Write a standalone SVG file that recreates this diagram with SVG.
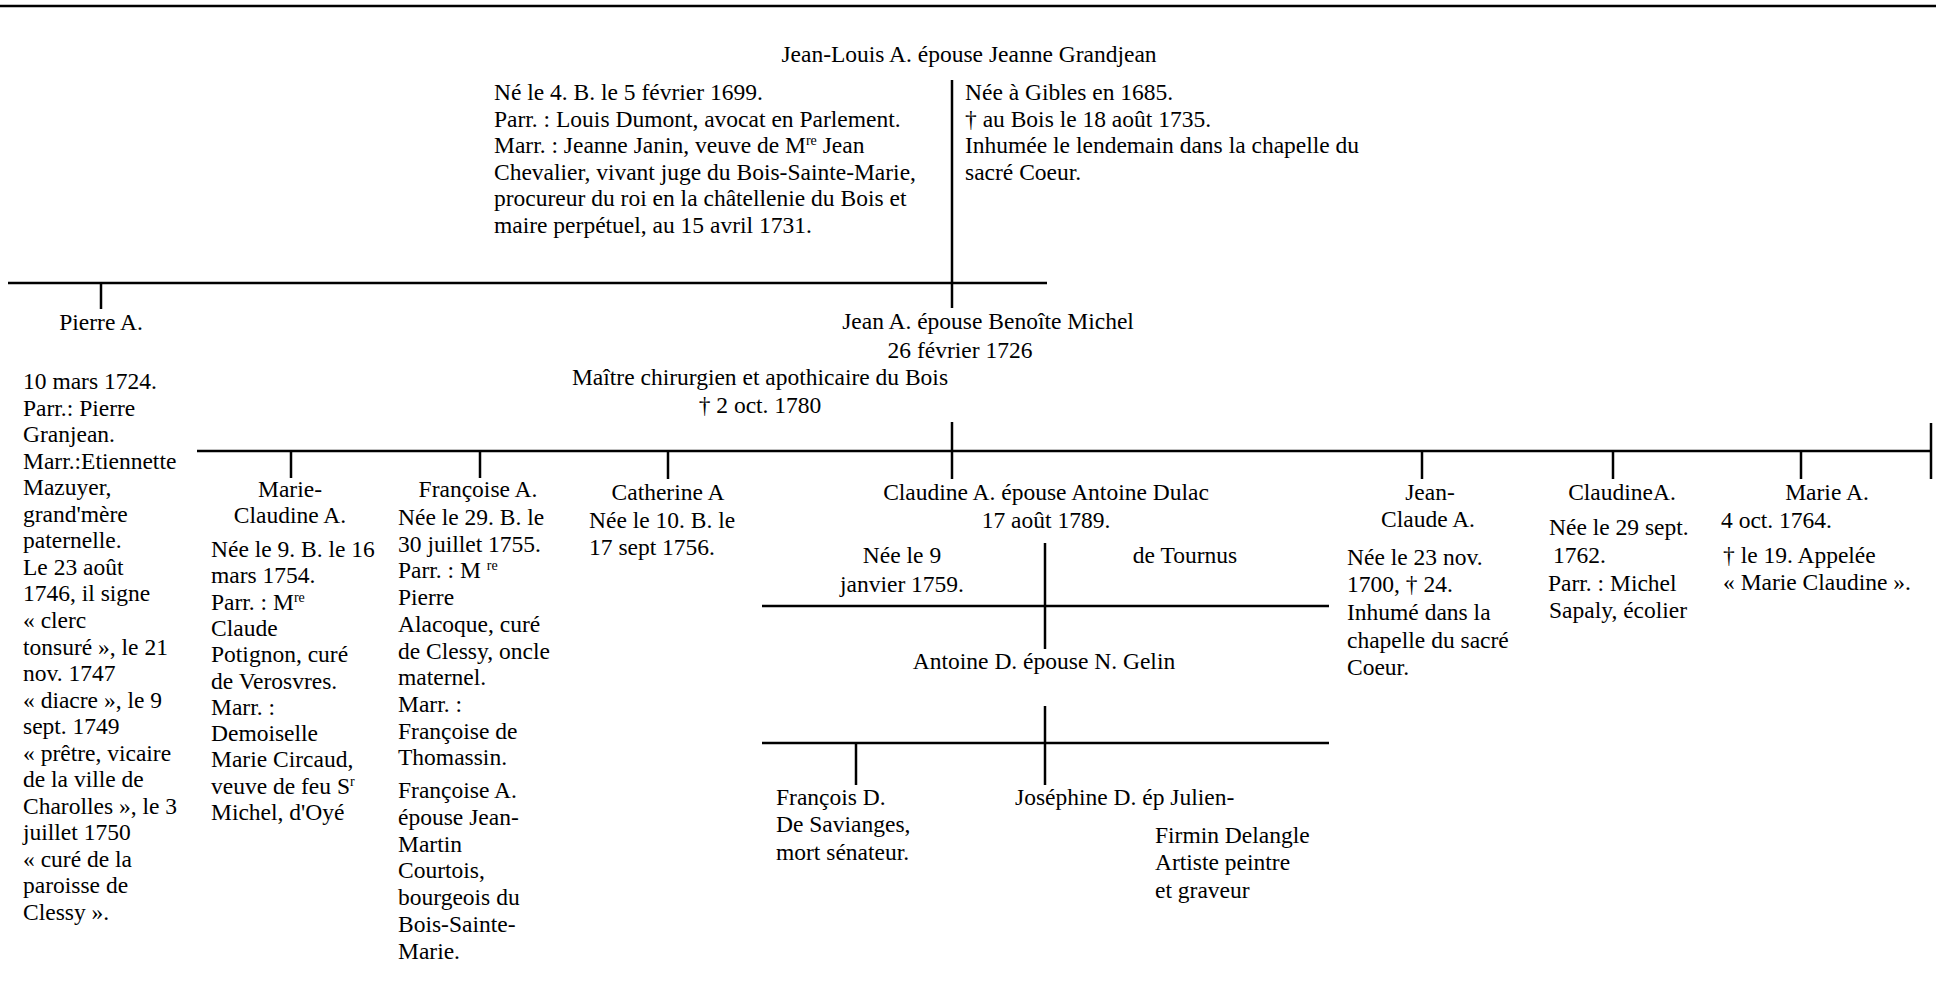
<svg xmlns="http://www.w3.org/2000/svg" width="1936" height="990" viewBox="0 0 1936 990">
<style>
text{font-family:"Liberation Serif","Times New Roman",serif;font-size:23.5px;fill:#000}
.c{text-anchor:middle}
.sup{font-size:14px}
line{stroke:#000;stroke-width:2.5}
</style>
<rect width="1936" height="990" fill="#fff"/>
<g id="connectors">
<line x1="0" y1="6" x2="1936" y2="6" stroke-width="3"/>
<line x1="952" y1="80" x2="952" y2="308"/>
<line x1="8" y1="283" x2="1047" y2="283"/>
<line x1="101" y1="283" x2="101" y2="309"/>
<line x1="952" y1="422" x2="952" y2="479"/>
<line x1="197" y1="451" x2="1931" y2="451"/>
<line x1="1931" y1="423" x2="1931" y2="479"/>
<line x1="291" y1="451" x2="291" y2="478"/>
<line x1="480" y1="451" x2="480" y2="478"/>
<line x1="668" y1="451" x2="668" y2="479"/>
<line x1="1422" y1="451" x2="1422" y2="479"/>
<line x1="1613" y1="451" x2="1613" y2="479"/>
<line x1="1801" y1="451" x2="1801" y2="479"/>
<line x1="1045" y1="543" x2="1045" y2="649"/>
<line x1="762" y1="606" x2="1329" y2="606"/>
<line x1="1045" y1="706" x2="1045" y2="785"/>
<line x1="762" y1="743" x2="1329" y2="743"/>
<line x1="856" y1="743" x2="856" y2="785"/>
</g>
<g id="jean-louis">
<text x="969" y="62" class="c">Jean-Louis A. épouse Jeanne Grandjean</text>
</g>
<g id="jean-louis-notes">
<text x="494" y="100">Né le 4. B. le 5 février 1699.</text>
<text x="494" y="126.5">Parr. : Louis Dumont, avocat en Parlement.</text>
<text x="494" y="153">Marr. : Jeanne Janin, veuve de M<tspan class="sup" dy="-8">re</tspan><tspan dy="8"> Jean</tspan></text>
<text x="494" y="179.5">Chevalier, vivant juge du Bois-Sainte-Marie,</text>
<text x="494" y="206">procureur du roi en la châtellenie du Bois et</text>
<text x="494" y="232.5">maire perpétuel, au 15 avril 1731.</text>
</g>
<g id="jeanne-notes">
<text x="965" y="100">Née à Gibles en 1685.</text>
<text x="965" y="126.5">† au Bois le 18 août 1735.</text>
<text x="965" y="153">Inhumée le lendemain dans la chapelle du</text>
<text x="965" y="179.5">sacré Coeur.</text>
</g>
<g id="pierre">
<text x="101" y="330" class="c">Pierre A.</text>
<text x="23" y="389">
<tspan x="23">10 mars 1724.</tspan>
<tspan x="23" dy="26.55">Parr.: Pierre</tspan>
<tspan x="23" dy="26.55">Granjean.</tspan>
<tspan x="23" dy="26.55">Marr.:Etiennette</tspan>
<tspan x="23" dy="26.55">Mazuyer,</tspan>
<tspan x="23" dy="26.55">grand'mère</tspan>
<tspan x="23" dy="26.55">paternelle.</tspan>
<tspan x="23" dy="26.55">Le 23 août</tspan>
<tspan x="23" dy="26.55">1746, il signe</tspan>
<tspan x="23" dy="26.55">« clerc</tspan>
<tspan x="23" dy="26.55">tonsuré », le 21</tspan>
<tspan x="23" dy="26.55">nov. 1747</tspan>
<tspan x="23" dy="26.55">« diacre », le 9</tspan>
<tspan x="23" dy="26.55">sept. 1749</tspan>
<tspan x="23" dy="26.55">« prêtre, vicaire</tspan>
<tspan x="23" dy="26.55">de la ville de</tspan>
<tspan x="23" dy="26.55">Charolles », le 3</tspan>
<tspan x="23" dy="26.55">juillet 1750</tspan>
<tspan x="23" dy="26.55">« curé de la</tspan>
<tspan x="23" dy="26.55">paroisse de</tspan>
<tspan x="23" dy="26.55">Clessy ».</tspan>
</text>
</g>
<g id="jean">
<text x="988" y="329" class="c">Jean A. épouse Benoîte Michel</text>
<text x="960" y="358" class="c">26 février 1726</text>
<text x="760" y="385" class="c">Maître chirurgien et apothicaire du Bois</text>
<text x="760" y="413" class="c">† 2 oct. 1780</text>
</g>
<g id="marie-claudine">
<text x="290" y="497" class="c">Marie-</text>
<text x="290" y="523" class="c">Claudine A.</text>
<text x="211" y="557">
<tspan x="211">Née le 9. B. le 16</tspan>
<tspan x="211" dy="26.3">mars 1754.</tspan>
<tspan x="211" dy="26.3">Parr. : M</tspan><tspan class="sup" dy="-8">re</tspan>
<tspan x="211" dy="34.3">Claude</tspan>
<tspan x="211" dy="26.3">Potignon, curé</tspan>
<tspan x="211" dy="26.3">de Verosvres.</tspan>
<tspan x="211" dy="26.3">Marr. :</tspan>
<tspan x="211" dy="26.3">Demoiselle</tspan>
<tspan x="211" dy="26.3">Marie Circaud,</tspan>
<tspan x="211" dy="26.3">veuve de feu S</tspan><tspan class="sup" dy="-8">r</tspan>
<tspan x="211" dy="34.3">Michel, d'Oyé</tspan>
</text>
</g>
<g id="francoise">
<text x="478" y="497" class="c">Françoise A.</text>
<text x="398" y="525">
<tspan x="398">Née le 29. B. le</tspan>
<tspan x="398" dy="26.7">30 juillet 1755.</tspan>
<tspan x="398" dy="26.7">Parr. : M </tspan><tspan class="sup" dy="-8">re</tspan>
<tspan x="398" dy="34.7">Pierre</tspan>
<tspan x="398" dy="26.7">Alacoque, curé</tspan>
<tspan x="398" dy="26.7">de Clessy, oncle</tspan>
<tspan x="398" dy="26.7">maternel.</tspan>
<tspan x="398" dy="26.7">Marr. :</tspan>
<tspan x="398" dy="26.7">Françoise de</tspan>
<tspan x="398" dy="26.7">Thomassin.</tspan>
<tspan x="398" dy="33">Françoise A.</tspan>
<tspan x="398" dy="26.7">épouse Jean-</tspan>
<tspan x="398" dy="26.7">Martin</tspan>
<tspan x="398" dy="26.7">Courtois,</tspan>
<tspan x="398" dy="26.7">bourgeois du</tspan>
<tspan x="398" dy="26.7">Bois-Sainte-</tspan>
<tspan x="398" dy="26.7">Marie.</tspan>
</text>
</g>
<g id="catherine">
<text x="668" y="500" class="c">Catherine A</text>
<text x="589" y="528">Née le 10. B. le</text>
<text x="589" y="555">17 sept 1756.</text>
</g>
<g id="claudine-dulac">
<text x="1046" y="500" class="c">Claudine A. épouse Antoine Dulac</text>
<text x="1046" y="528" class="c">17 août 1789.</text>
<text x="902" y="563" class="c">Née le 9</text>
<text x="902" y="592" class="c">janvier 1759.</text>
<text x="1185" y="563" class="c">de Tournus</text>
</g>
<g id="antoine">
<text x="1044" y="669" class="c">Antoine D. épouse N. Gelin</text>
</g>
<g id="francois">
<text x="776" y="805">François D.</text>
<text x="776" y="832">De Savianges,</text>
<text x="776" y="860">mort sénateur.</text>
</g>
<g id="josephine">
<text x="1015" y="805">Joséphine D. ép Julien-</text>
<text x="1155" y="843">Firmin Delangle</text>
<text x="1155" y="870">Artiste peintre</text>
<text x="1155" y="898">et graveur</text>
</g>
<g id="jean-claude">
<text x="1430" y="500" class="c">Jean-</text>
<text x="1428" y="527" class="c">Claude A.</text>
<text x="1347" y="565">Née le 23 nov.</text>
<text x="1347" y="592">1700, † 24.</text>
<text x="1347" y="620">Inhumé dans la</text>
<text x="1347" y="648">chapelle du sacré</text>
<text x="1347" y="675">Coeur.</text>
</g>
<g id="claudine">
<text x="1622" y="500" class="c">ClaudineA.</text>
<text x="1549" y="535">Née le 29 sept.</text>
<text x="1553" y="563">1762.</text>
<text x="1548" y="591">Parr. : Michel</text>
<text x="1549" y="618">Sapaly, écolier</text>
</g>
<g id="marie">
<text x="1827" y="500" class="c">Marie A.</text>
<text x="1721" y="528">4 oct. 1764.</text>
<text x="1723" y="563">† le 19. Appelée</text>
<text x="1723" y="590">« Marie Claudine ».</text>
</g>
</svg>
